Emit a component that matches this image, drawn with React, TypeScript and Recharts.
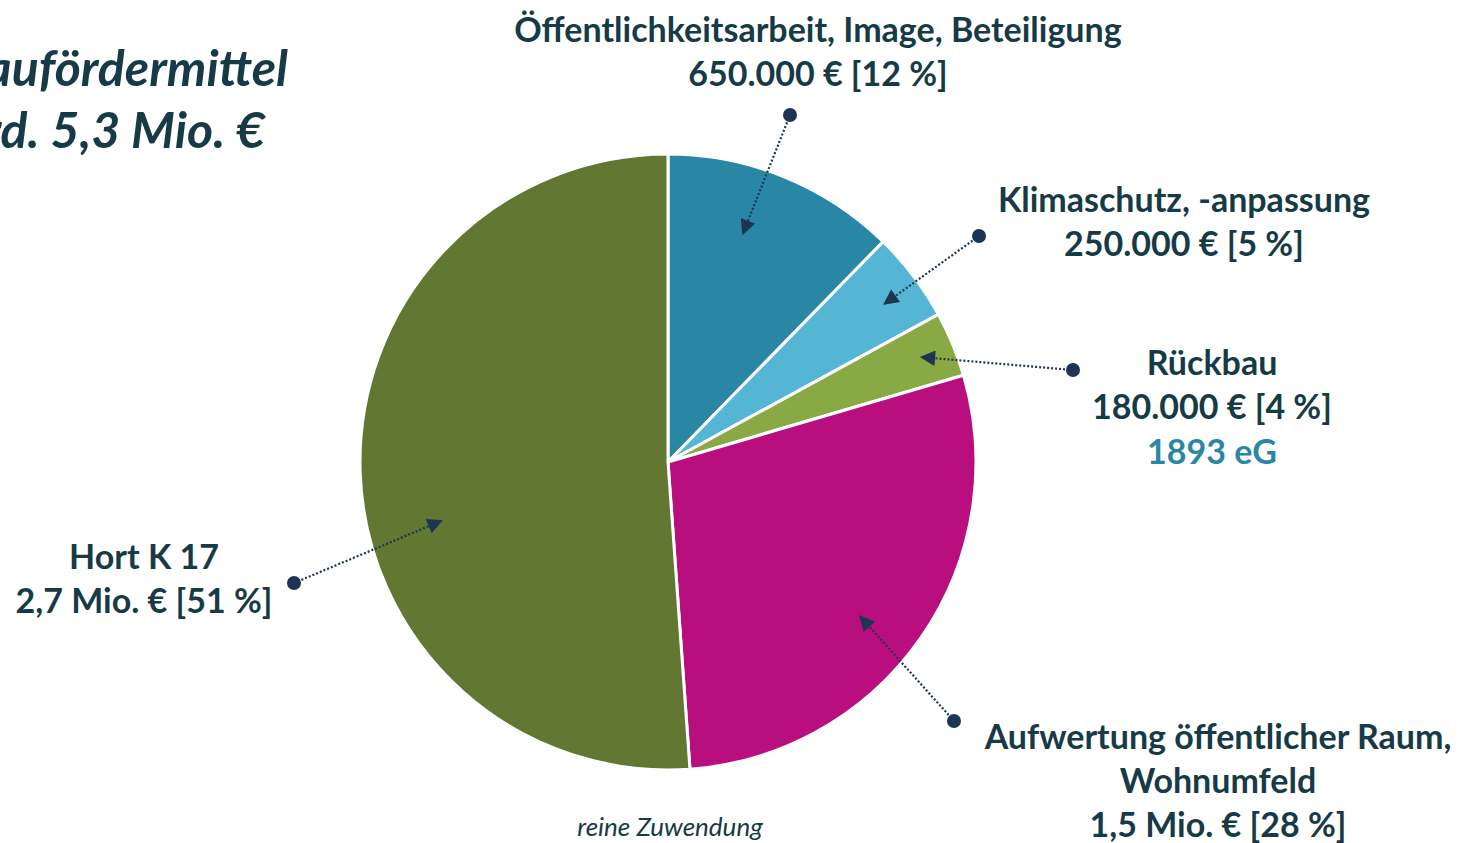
import React from "react";
import { PieChart, Pie, Cell } from "recharts";

const categories = [
  "Öffentlichkeitsarbeit, Image, Beteiligung",
  "Klimaschutz, -anpassung",
  "Rückbau",
  "Aufwertung öffentlicher Raum, Wohnumfeld",
  "Hort K 17",
];
const amounts = [650000, 250000, 180000, 1500000, 2700000];
const labelLines = [
  ["Öffentlichkeitsarbeit, Image, Beteiligung", "650.000 € [12 %]"],
  ["Klimaschutz, -anpassung", "250.000 € [5 %]"],
  ["Rückbau", "180.000 € [4 %]"],
  ["Aufwertung öffentlicher Raum,", "Wohnumfeld", "1,5 Mio. € [28 %]"],
  ["Hort K 17", "2,7 Mio. € [51 %]"],
];
const extraLines = ["", "", "1893 eG", "", ""];
const colors = ["#2a86a5", "#55b5d5", "#89a945", "#b90e7d", "#627832"];

const titleLines = ["Städtebaufördermittel", "rd. 5,3 Mio. €"];
const footnote = "reine Zuwendung";

// label placement (text block, dot, arrow tip relative to slice)
const labelLayout = [
  { x: 818, y: 42, dot: [790, 115], tipShift: -4, tipR: 0.78 },
  { x: 1184, y: 212, dot: [979, 236], tipShift: 1, tipR: 0.87 },
  { x: 1212, y: 375, dot: [1073, 370], tipShift: 0, tipR: 0.89 },
  { x: 1218, y: 749, dot: [954, 721], tipShift: 4, tipR: 0.8 },
  { x: 144, y: 569, dot: [294, 583], tipShift: -12.5, tipR: 0.76 },
];

const data = categories.map((name, i) => ({ name, value: amounts[i] }));

const TEXT = "#173a47";
const NAVY = "#1c3553";
const FONT = "Lato, 'Open Sans', sans-serif";
const RAD = Math.PI / 180;

const renderLabel = (props: any) => {
  const { cx, cy, midAngle, outerRadius, index } = props;
  const lay = labelLayout[index];
  const ang = midAngle - lay.tipShift;
  const tx = cx + Math.cos(-ang * RAD) * outerRadius * lay.tipR;
  const ty = cy + Math.sin(-ang * RAD) * outerRadius * lay.tipR;
  const [dx, dy] = lay.dot;
  const lines = labelLines[index];
  const id = `arrow-${index}`;
  return (
    <g key={id}>
      <defs>
        <marker id={id} viewBox="0 0 10 10" refX="9" refY="5" markerWidth="8" markerHeight="7" orient="auto" markerUnits="strokeWidth">
          <path d="M0,0 L10,5 L0,10 z" fill={NAVY} stroke="none" />
        </marker>
      </defs>
      <line x1={dx} y1={dy} x2={tx} y2={ty} stroke={NAVY} strokeWidth={2.2} strokeDasharray="2 2" markerEnd={`url(#${id})`} />
      <circle cx={dx} cy={dy} r={7} fill={NAVY} />
      <text x={lay.x} y={lay.y} textAnchor="middle" fill={TEXT} fontFamily={FONT} fontWeight={700} fontSize={34}>
        {lines.map((l, k) => (
          <tspan key={k} x={lay.x} dy={k === 0 ? 0 : 44}>{l}</tspan>
        ))}
        {extraLines[index] ? (
          <tspan x={lay.x} dy={45} fill="#2a86a5">{extraLines[index]}</tspan>
        ) : null}
      </text>
    </g>
  );
};

export default function App() {
  return (
    <div style={{ position: "absolute", left: 0, top: 0, width: 1464, height: 843, background: "#fff", overflow: "hidden" }}>
      <PieChart width={1464} height={843} margin={{ top: 0, right: 0, bottom: 0, left: 0 }}>
        <Pie
          data={data}
          dataKey="value"
          nameKey="name"
          cx={668}
          cy={462}
          outerRadius={308}
          startAngle={90}
          endAngle={-270}
          stroke="#ffffff"
          strokeWidth={3}
          labelLine={false}
          label={renderLabel}
          isAnimationActive={false}
        >
          {data.map((d, i) => (
            <Cell key={d.name} fill={colors[i]} />
          ))}
        </Pie>
      </PieChart>
      <svg width={1464} height={843} style={{ position: "absolute", left: 0, top: 0, pointerEvents: "none" }}>
        <text x={288} y={86} textAnchor="end" fill={TEXT} fontFamily={FONT} fontWeight={700} fontStyle="italic" fontSize={50}>
          {titleLines[0]}
        </text>
        <text x={265} y={148} textAnchor="end" fill={TEXT} fontFamily={FONT} fontWeight={700} fontStyle="italic" fontSize={50}>
          {titleLines[1]}
        </text>
        <text x={670} y={836} textAnchor="middle" fill={TEXT} fontFamily={FONT} fontStyle="italic" fontSize={26}>
          {footnote}
        </text>
      </svg>
    </div>
  );
}
